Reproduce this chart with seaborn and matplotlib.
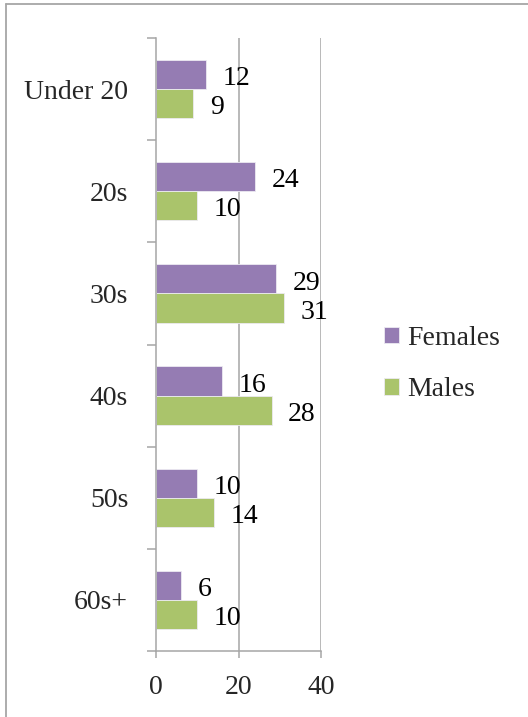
import matplotlib
matplotlib.use("Agg")
import matplotlib.pyplot as plt
import seaborn as sns
import pandas as pd
from matplotlib.lines import Line2D

categories = ["Under 20", "20s", "30s", "40s", "50s", "60s+"]
females = [12, 24, 29, 16, 10, 6]
males = [9, 10, 31, 28, 14, 10]
series = ["Females", "Males"]
x_ticks = [0, 20, 40]

df = pd.DataFrame({
    "Age": categories * 2,
    "Count": females + males,
    "Sex": ["Females"] * len(categories) + ["Males"] * len(categories),
})

sns.set_style("white")
plt.rcParams["font.family"] = ["Liberation Serif", "DejaVu Serif"]
FS = 20
GRAY = "#A6A6A6"
palette = {"Females": "#957CB3", "Males": "#AAC46B"}

fig = plt.figure(figsize=(5.28, 7.17), dpi=100)
ax = fig.add_axes([156 / 528, 1 - 651 / 717, 165 / 528, (651 - 38) / 717])

sns.barplot(data=df, y="Age", x="Count", hue="Sex", order=categories,
            hue_order=series, palette=palette, orient="h", width=0.57,
            saturation=1, edgecolor="#ECEAF2", linewidth=0.6, ax=ax, legend=True)

for cont in ax.containers:
    for bar in cont:
        w = bar.get_width()
        yc = bar.get_y() + bar.get_height() / 2
        ax.annotate(f"{w:g}", xy=(w, yc), xytext=(12, -3), textcoords="offset points",
                    ha="left", va="center", fontsize=FS, color="black")

ax.set_xlim(0, 40)
ax.set_ylim(5.5, -0.5)
ax.set_xticks(x_ticks)
ax.set_xticklabels([str(t) for t in x_ticks], fontsize=FS)
ax.set_yticks(range(len(categories)))
ax.set_yticklabels(categories, fontsize=FS)
ax.set_yticks([i - 0.5 for i in range(len(categories) + 1)], minor=True)
ax.tick_params(axis="y", which="major", length=0, pad=20)
ax.tick_params(axis="y", which="minor", length=6.5, width=1.1, color=GRAY, direction="out", left=True)
ax.tick_params(axis="x", which="major", length=5, width=1.1, color=GRAY, direction="out", bottom=True, pad=12)
ax.set_xlabel("")
ax.set_ylabel("")
ax.grid(False)
for x in x_ticks[1:]:
    ax.axvline(x, color=GRAY, lw=1.1, zorder=0)
for s in ["top", "right"]:
    ax.spines[s].set_visible(False)
for s in ["left", "bottom"]:
    ax.spines[s].set_color(GRAY)
    ax.spines[s].set_linewidth(1.1)

ax.get_legend().remove()
handles, labels = ax.get_legend_handles_labels()
fig.legend(handles, labels, loc="center left", bbox_to_anchor=(384 / 528, 1 - 364 / 717),
           frameon=False, fontsize=FS, handlelength=0.55, handleheight=0.55,
           handletextpad=0.28, labelspacing=0.95, borderpad=0, borderaxespad=0)

fig.add_artist(Line2D([6 / 528, 6 / 528], [0, 1 - 4 / 717], color=GRAY, lw=1.3, transform=fig.transFigure))
fig.add_artist(Line2D([6 / 528, 1], [1 - 4 / 717, 1 - 4 / 717], color=GRAY, lw=1.3, transform=fig.transFigure))

fig.savefig("out.png", dpi=100)
